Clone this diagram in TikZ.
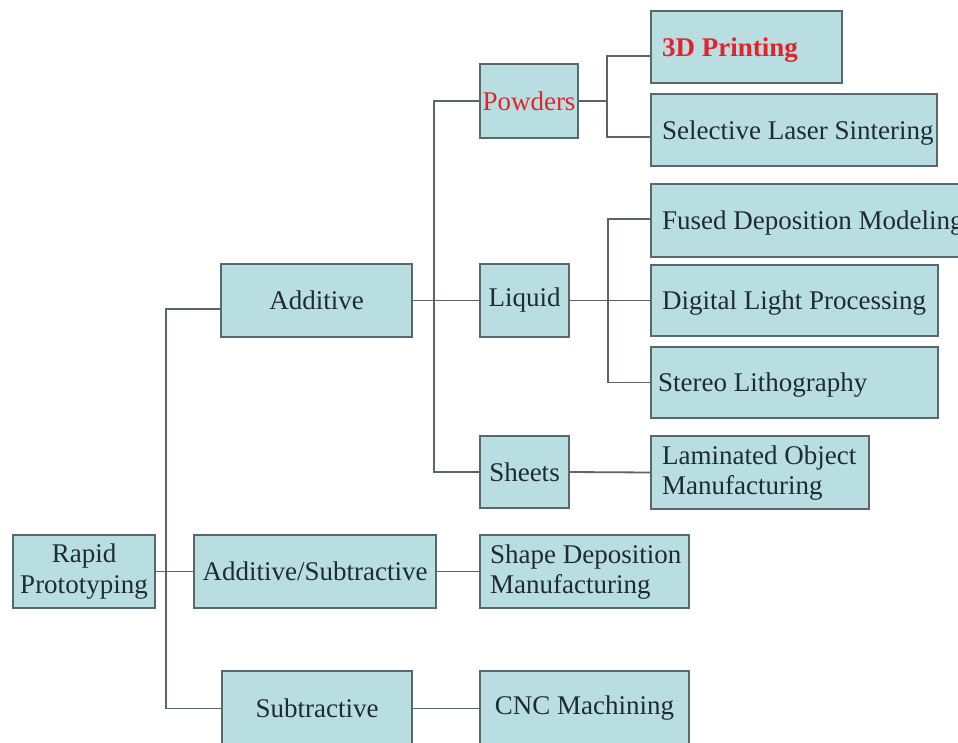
\documentclass[tikz,border=0pt]{standalone}
\usepackage{fontspec}
\setmainfont{Liberation Serif}
\definecolor{boxc}{RGB}{184,222,226}
\definecolor{bordc}{RGB}{88,104,108}
\definecolor{linec}{RGB}{92,100,102}
\definecolor{textc}{RGB}{30,44,50}
\definecolor{redc}{RGB}{226,36,42}
\begin{document}
\begin{tikzpicture}[x=1pt,y=-1pt,
  box/.style={draw=bordc, fill=boxc, line width=2pt, inner sep=0pt,
    anchor=north west, text=textc, align=center,
    font=\fontsize{27}{31}\selectfont},
  ltext/.style={anchor=west, inner sep=0pt, align=left, text=textc,
    font=\fontsize{27}{30}\selectfont},
  conn/.style={draw=linec, line width=1.8pt}]
\clip (0,0) rectangle (958,743);
\fill[white] (0,0) rectangle (958,743);
% level 0/1
\node[box, minimum width=142pt, minimum height=73pt] (rp) at (12,534) {Rapid\\Prototyping};
\node[box, minimum width=191pt, minimum height=73pt] (add) at (220,263) {Additive};
\node[box, minimum width=242pt, minimum height=73pt] (as) at (193,534) {Additive/Subtractive};
\node[box, minimum width=190pt, minimum height=75pt] (sub) at (221,670) {Subtractive};
% level 2
\node[box, minimum width=98pt, minimum height=74pt, text=redc] (pow) at (479,63) {Powders};
\node[box, minimum width=89pt, minimum height=73pt] (liq) at (479,263) {Liquid};
\node[box, minimum width=89pt, minimum height=72pt] (sh) at (479,435) {Sheets};
\node[box, minimum width=209pt, minimum height=73pt] (sdm) at (479,534) {};
\node[ltext] (sdmt) at ([xshift=11pt,yshift=-1pt]sdm.west) {Shape Deposition\\Manufacturing};
\node[box, minimum width=209pt, minimum height=75pt] (cnc) at (479,670) {CNC Machining};
% level 3
\node[box, minimum width=191pt, minimum height=72pt] (p3d) at (650,10) {};
\node[ltext, text=redc, font=\fontsize{27}{30}\selectfont\bfseries] (p3dt) at ([xshift=12pt,yshift=-3pt]p3d.west) {3D Printing};
\node[box, minimum width=286pt, minimum height=72pt] (sls) at (650,93) {};
\node[ltext] (slst) at ([xshift=12pt,yshift=-3pt]sls.west) {Selective Laser Sintering};
\node[box, minimum width=320pt, minimum height=73pt] (fdm) at (650,183) {};
\node[ltext] (fdmt) at ([xshift=12pt,yshift=-3pt]fdm.west) {Fused Deposition Modeling};
\node[box, minimum width=287pt, minimum height=71pt] (dlp) at (650,264) {};
\node[ltext] (dlpt) at ([xshift=12pt,yshift=-3pt]dlp.west) {Digital Light Processing};
\node[box, minimum width=287pt, minimum height=71pt] (sla) at (650,346) {};
\node[ltext] (slat) at ([xshift=8pt,yshift=-3pt]sla.west) {Stereo Lithography};
\node[box, minimum width=218pt, minimum height=73pt] (lom) at (650,435) {};
\node[ltext] (lomt) at ([xshift=12pt,yshift=-1pt]lom.west) {Laminated Object\\Manufacturing};
% connectors
\coordinate (tk) at ([xshift=-54pt,yshift=-8.5pt]add.west);
\draw[conn] (rp.east) -- (as.west);
\draw[conn] ([yshift=-8.5pt]add.west) -- (tk) |- (sub.west);
\draw[conn] (add.east) -- (liq.west);
\coordinate (aj) at ([xshift=-45pt]pow.west);
\draw[conn] (pow.west) -- (aj) |- (sh.west);
\coordinate (pj) at ([xshift=28pt]pow.east);
\draw[conn] (pow.east) -- (pj);
\draw[conn] (pj) |- ([yshift=-9pt]p3d.west);
\draw[conn] (pj) |- ([yshift=-7pt]sls.west);
\draw[conn] (liq.east) -- (dlp.west);
\coordinate (lj) at ([xshift=38pt]liq.east);
\draw[conn] (lj) |- ([yshift=1.5pt]fdm.west);
\draw[conn] (lj) |- (sla.west);
\draw[conn] (sh.east) -- (lom.west);
\draw[conn] (as.east) -- (sdm.west);
\draw[conn] (sub.east) -- (cnc.west);
\end{tikzpicture}
\end{document}
